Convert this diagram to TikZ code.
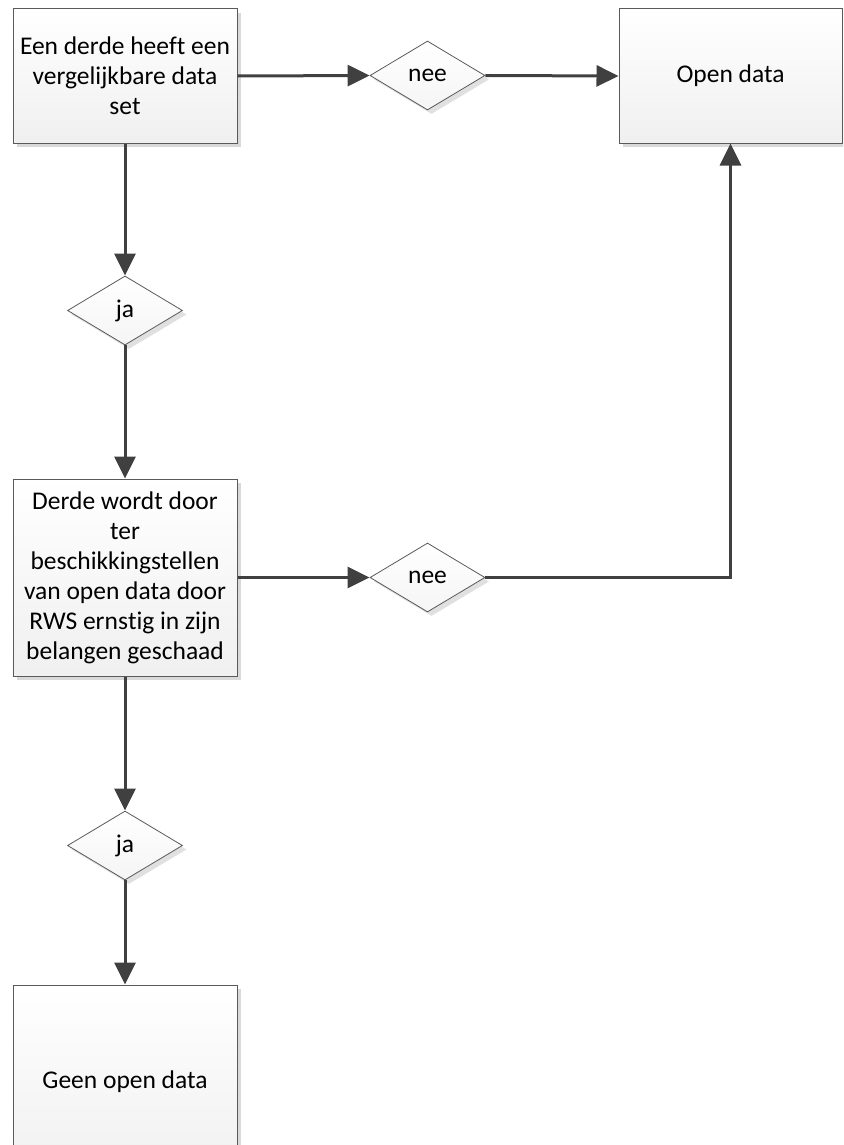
\documentclass[tikz,border=0pt]{standalone}
\usepackage{fontspec}
\setmainfont{Carlito}[Ligatures={NoCommon,NoRare,NoContextual}]
\usetikzlibrary{shapes.geometric,arrows.meta,shadows}
\definecolor{linegray}{HTML}{404040}
\definecolor{edgegray}{HTML}{5A5A5A}
\tikzset{
  procbox/.style={rectangle, draw=edgegray, line width=1pt, top color=white, bottom color=black!6,
    drop shadow={shadow xshift=4pt, shadow yshift=-4pt, fill=black!15, opacity=1},
    inner sep=2pt, align=center, font=\fontsize{25.5}{30}\selectfont},
  decision/.style={diamond, draw=edgegray, line width=0.8pt, top color=white, bottom color=black!4,
    drop shadow={shadow xshift=4pt, shadow yshift=-4pt, fill=black!12, opacity=1},
    inner sep=0pt, minimum width=115pt, minimum height=69pt, font=\fontsize{25.5}{30}\selectfont},
  flow/.style={draw=linegray, line width=3pt, -{Triangle[length=22pt,width=21pt]}},
}
\begin{document}
\begin{tikzpicture}[x=1pt,y=-1pt]
\useasboundingbox (0,0) rectangle (843,1145);
\begin{scope}
\clip (0,0) rectangle (843,1145);
\node[procbox, minimum width=224pt, minimum height=134pt] (b1) at (125,76)
  {Een derde hee\kern0ptf\kern0ptt een\\vergelijkbare data\\set};
\node[procbox, minimum width=223pt, minimum height=134pt] (od) at (730.5,76) {Open data};
\node[decision] (n1) at (427.5,75.5) {nee};
\node[decision] (j1) at (125,310.5) {ja};
\node[procbox, minimum width=224pt, minimum height=197pt] (b2) at (125,577.5)
  {Derde wordt door\\ter\\beschikkingstellen\\van open data door\\RWS erns\kern0ptt\kern0ptig in zijn\\belangen geschaad};
\node[decision] (n2) at (427.5,577.5) {nee};
\node[decision] (j2) at (125,845.5) {ja};
\node[procbox, minimum width=224pt, minimum height=194pt] (b3) at (125,1082) {Geen open data};
\end{scope}
\coordinate (c1) at (od.south |- n2.east);
\draw[flow] (b1.east) -- (n1.west);
\draw[flow] (n1.east) -- (od.west);
\draw[flow] (b1.south) -- (j1.north);
\draw[flow] (j1.south) -- (b2.north);
\draw[flow] (b2.east) -- (n2.west);
\draw[flow] (n2.east) -- (c1) -- (od.south);
\draw[flow] (b2.south) -- (j2.north);
\draw[flow] (j2.south) -- (b3.north);
\end{tikzpicture}
\end{document}
